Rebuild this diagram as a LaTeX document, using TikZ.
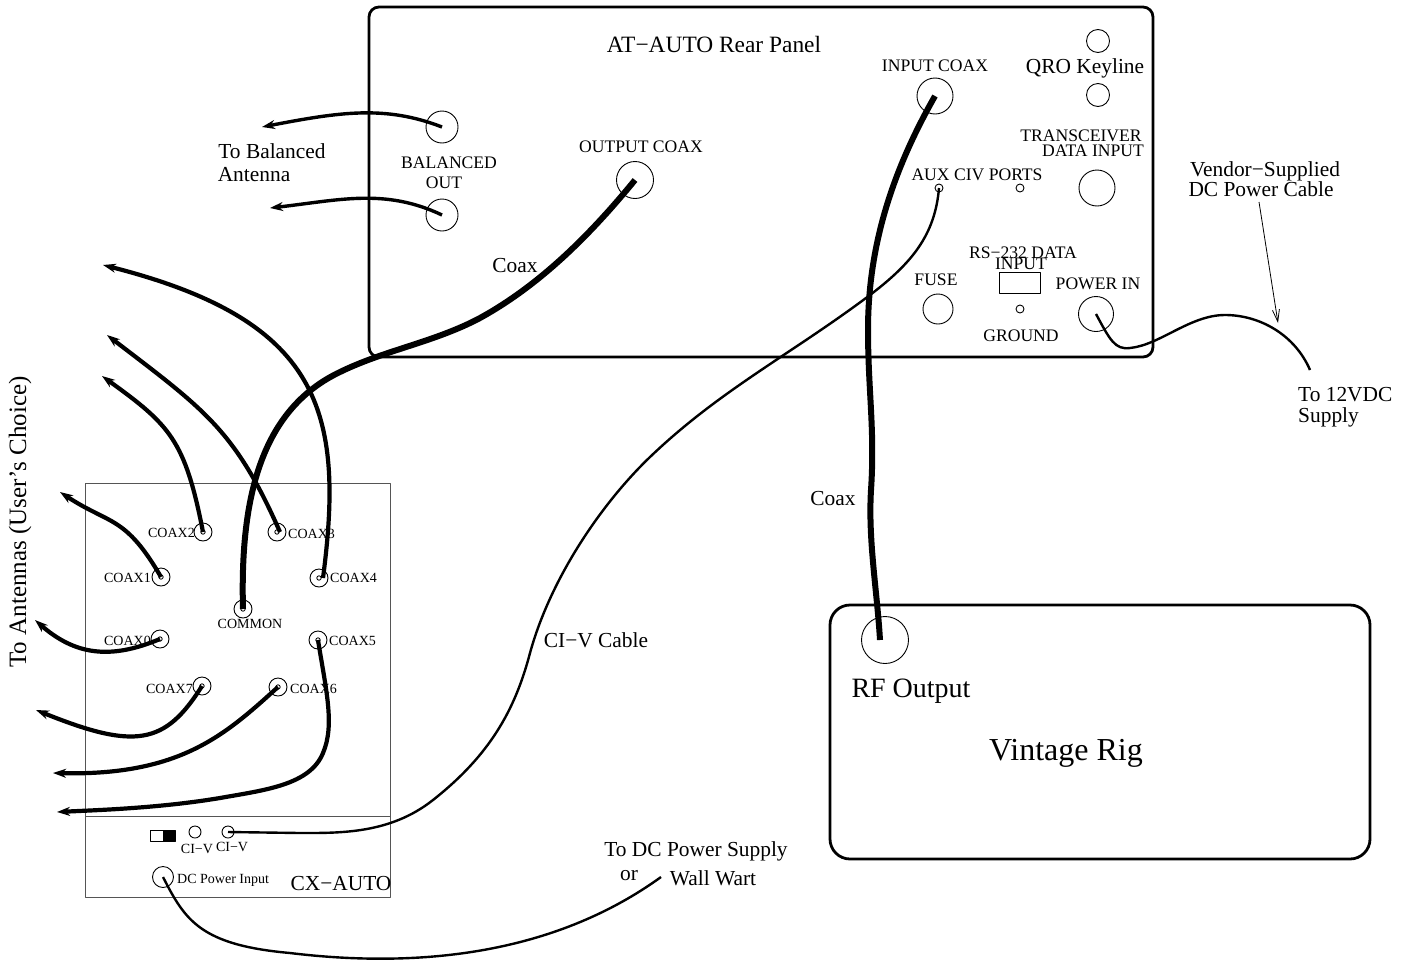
\documentclass[tikz,border=0pt]{standalone}
\usepackage{fontspec}
\setmainfont{Liberation Serif}
\usetikzlibrary{arrows.meta}
\definecolor{boxgray}{HTML}{555555}

\begin{document}
\begin{tikzpicture}[
  x=1pt,
  y=-1pt,
  line join=round,
  outer/.style={draw=black,line width=2.8pt,rounded corners=10pt},
  thinbox/.style={draw=boxgray,line width=1pt},
  jack/.style={circle,draw=black,line width=0.9pt,inner sep=0pt,minimum size=#1},
  coaxcable/.style={draw=black,line width=4.2pt,-{Stealth[length=13pt,width=9pt]}},
  bigcoax/.style={draw=black,line width=6pt},
  wirecable/.style={draw=black,line width=2.4pt},
  lab/.style={font=\fontsize{17.6}{18}\selectfont,inner sep=0pt,yshift=-1pt},
  smalllab/.style={font=\fontsize{14}{15}\selectfont,inner sep=0pt,yshift=-1pt},
  biglab/.style={font=\fontsize{21.4}{22}\selectfont,inner sep=0pt,yshift=-1pt}
]
  \useasboundingbox (0,0) rectangle (1412,961);

  % Rear panel of the tuner.
  \draw[outer] (369,7) rectangle (1153,357);
  \node[biglab,font=\fontsize{23.4}{24}\selectfont] (paneltitle) at (714,43) {AT−AUTO Rear Panel};
  \node[jack=32pt] (balone) at (442,127) {};
  \node[jack=32pt] (baltwo) at (442,215) {};
  \node[jack=37pt] (outcoax) at (635,180) {};
  \node[jack=36pt] (incoax) at (935,96) {};
  \node[jack=23pt] (keyone) at (1098,41) {};
  \node[jack=23pt] (keytwo) at (1098,95) {};
  \node[jack=36pt] (datain) at (1097,188) {};
  \node[jack=30pt] (fuse) at (938,309) {};
  \node[jack=35pt] (powerin) at (1096,314) {};
  \node[jack=8pt] (auxone) at (939,188) {};
  \node[jack=8pt] (auxtwo) at (1020,188) {};
  \node[jack=8pt] (ground) at (1020,309) {};
  \draw[line width=0.9pt] (999,272) rectangle (1040,293);
  \node[lab] at (449,162) {BALANCED};
  \node[lab] at (444,182) {OUT};
  \node[lab] at (641,146) {OUTPUT COAX};
  \node[lab] at (935,65) {INPUT COAX};
  \node[lab] at (1081,135) {TRANSCEIVER};
  \node[lab] at (1093,150) {DATA INPUT};
  \node[lab] at (977,174) {AUX CIV PORTS};
  \node[lab] at (1023,252) {RS−232 DATA};
  \node[lab] at (1021,263) {INPUT};
  \node[lab] at (936,279) {FUSE};
  \node[lab] at (1098,283) {POWER IN};
  \node[lab] at (1021,335) {GROUND};
  \node[biglab] at (1085,67) {QRO Keyline};

  % Switch box and its jacks.
  \draw[thinbox] (85,483) rectangle (390,897);
  \draw[thinbox] (85,816) -- (390,816);
  \foreach \p/\x/\y in {czero/160/639,cone/161/577,ctwo/203/532,cthree/277/532,cfour/319/578,cfive/318/640,csix/278/687,cseven/202/686,common/243/609} {
    \node[jack=18pt] (\p) at (\x,\y) {};
    \draw[line width=0.8pt] (\x,\y) circle[radius=2.2pt];
  }
  \node[smalllab,anchor=east] at (151,640) {COAX0};
  \node[smalllab,anchor=east] at (151,577) {COAX1};
  \node[smalllab,anchor=east] at (195,532) {COAX2};
  \node[smalllab,anchor=west] at (288,533) {COAX3};
  \node[smalllab,anchor=west] at (330,577) {COAX4};
  \node[smalllab,anchor=west] at (329,640) {COAX5};
  \node[smalllab,anchor=west] at (290,688) {COAX6};
  \node[smalllab,anchor=east] at (193,688) {COAX7};
  \node[smalllab] at (250,623) {COMMON};
  \draw[line width=0.9pt] (150,830) rectangle (175,841);
  \fill[black] (163,830) rectangle (175,841);
  \node[jack=12pt] (civone) at (195,832) {};
  \node[jack=12pt] (civtwo) at (228,832) {};
  \node[jack=21pt] (dcin) at (163,877) {};
  \node[smalllab] at (197,848) {CI−V};
  \node[smalllab] at (232,846) {CI−V};
  \node[smalllab,anchor=west] at (177,879) {DC Power Input};
  \node[biglab] at (341,883) {CX−AUTO};

  % Rig.
  \draw[outer,rounded corners=20pt] (830,605) rectangle (1370,859);
  \node[jack=47pt] (rfout) at (885,640) {};
  \node[font=\fontsize{28}{29}\selectfont,inner sep=0pt] at (911,691) {RF Output};
  \node[font=\fontsize{32}{33}\selectfont,inner sep=0pt] at (1066,753) {Vintage Rig};

  % Free cable ends.
  \coordinate (balonearrow) at (262,127);
  \coordinate (baltwoarrow) at (270,208);
  \coordinate (czeroarrow) at (35,620);
  \coordinate (conearrow) at (60,492);
  \coordinate (ctwoarrow) at (102,376);
  \coordinate (cthreearrow) at (107,335);
  \coordinate (cfourarrow) at (103,265);
  \coordinate (cfivearrow) at (57,812);
  \coordinate (csixarrow) at (53,773);
  \coordinate (csevenarrow) at (36,710);
  \coordinate (rfend) at (880,640);
  \coordinate (supplyend) at (1310,370);
  \coordinate (wallwart) at (661,877);

  % Antenna cables.
  \draw[coaxcable,line width=3.4pt] (balone.center) .. controls (385,105) and (340,112) .. (balonearrow);
  \draw[coaxcable,line width=3.4pt] (baltwo.center) .. controls (385,188) and (340,200) .. (baltwoarrow);
  \draw[coaxcable] (czero.center) .. controls (110,660) and (75,655) .. (czeroarrow);
  \draw[coaxcable] (cone.center) .. controls (125,515) and (110,525) .. (conearrow);
  \draw[coaxcable] (ctwo.center) .. controls (185,440) and (170,425) .. (ctwoarrow);
  \draw[coaxcable] ([xshift=3pt]cthree.center) .. controls (235,430) and (205,410) .. (cthreearrow);
  \draw[coaxcable] ([xshift=4pt]cfour.center) .. controls (345,410) and (320,320) .. (cfourarrow);
  \draw[coaxcable] (cfive.center) .. controls (326,690) and (335,725) .. (323,753) .. controls (310,785) and (265,790) .. (220,798) .. controls (160,808) and (100,810) .. (cfivearrow);
  \draw[coaxcable] (csix.center) .. controls (225,735) and (180,776) .. (csixarrow);
  \draw[coaxcable] (cseven.center) .. controls (165,745) and (135,750) .. (csevenarrow);

  % Main coax runs.
  \draw[bigcoax] (outcoax.center) .. controls (590,235) and (540,285) .. (480,318) .. controls (435,342) and (385,350) .. (340,372) .. controls (260,410) and (240,500) .. (common.center);
  \draw[bigcoax] (incoax.center) .. controls (890,175) and (868,250) .. (868,330) .. controls (868,390) and (875,430) .. (871,490) .. controls (868,540) and (877,590) .. (rfend);

  % Thin cables.
  \draw[wirecable] (auxone.center) .. controls (935,235) and (912,263) .. (870,295) .. controls (790,355) and (720,390) .. (650,457) .. controls (600,505) and (550,580) .. (530,653) .. controls (515,710) and (490,755) .. (433,800) .. controls (390,834) and (340,833) .. (300,833) -- (civtwo.center);
  \draw[wirecable] (powerin.center) .. controls (1110,340) and (1115,350) .. (1130,348) .. controls (1160,345) and (1190,315) .. (1225,315) .. controls (1260,315) and (1295,335) .. (supplyend);
  \draw[wirecable] (dcin.center) .. controls (185,920) and (200,945) .. (290,953) .. controls (430,970) and (560,950) .. (wallwart);

  % Remaining labels.
  \node[biglab] at (272,150) {To Balanced};
  \node[biglab] at (254,174) {Antenna};
  \node[biglab] at (515,265) {Coax};
  \node[biglab] at (833,498) {Coax};
  \node[biglab] at (596,639) {CI−V Cable};
  \node[biglab] at (696,850) {To DC Power Supply};
  \node[biglab] at (629,875) {or};
  \node[biglab] at (713,877) {Wall Wart};
  \node[biglab] at (1265,170) {Vendor−Supplied};
  \node[biglab] at (1261,188) {DC Power Cable};
  \node[biglab,anchor=west] at (1298,394) {To 12VDC};
  \node[biglab,anchor=west] at (1298,416) {Supply};
  \node[biglab,font=\fontsize{25}{26}\selectfont,rotate=90] at (20,521) {To Antennas (User's Choice)};

  % Pointer to the power cable.
  \coordinate (vendortail) at (1259,202);
  \coordinate (vendorhead) at (1278,323);
  \draw[line width=0.8pt,-{Straight Barb[length=12pt,width=7pt]}] (vendortail) -- (vendorhead);
\end{tikzpicture}
\end{document}
